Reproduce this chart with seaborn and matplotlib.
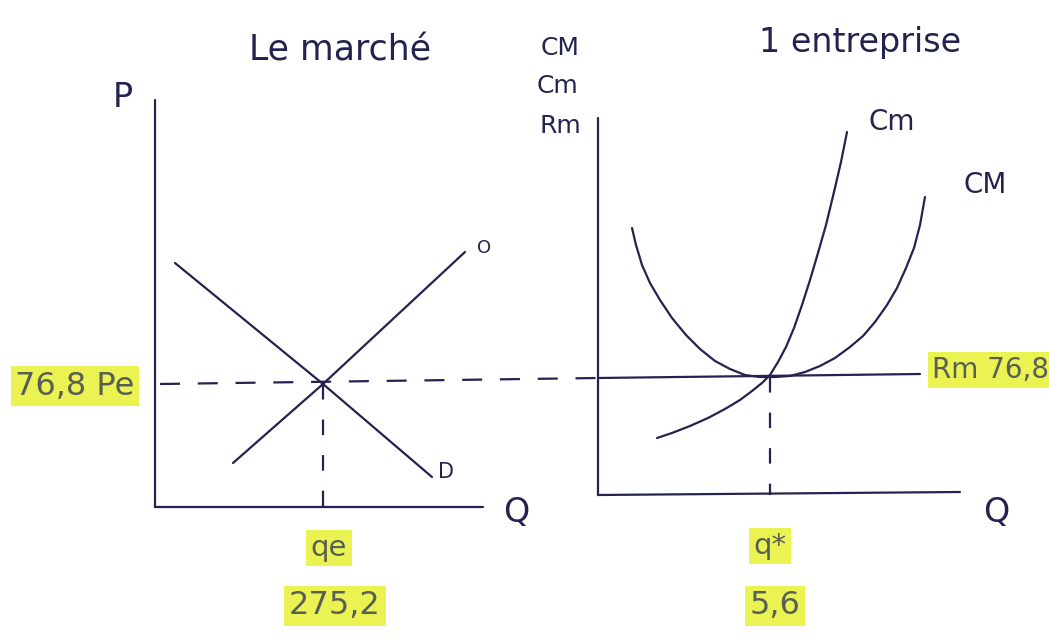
import matplotlib
matplotlib.use("Agg")
import matplotlib.pyplot as plt
import seaborn as sns

# ---------------- DATA (page pixel units) ----------------
# left panel : the market
supply_q = [233, 323, 465]
supply_p = [463, 384, 252]
demand_q = [175, 323, 432]
demand_p = [263, 384, 477]
qe_x = 323
pe_y = 384

# right panel : one firm
cm_q = [657, 672, 690, 708, 725, 740, 752, 762, 770, 778, 786, 794, 802, 810, 818, 826, 834, 841, 847]
cm_c = [438, 433, 426, 418, 409, 400, 391, 383, 375, 362, 347, 328, 305, 280, 253, 225, 192, 162, 132]
cmoy_q = [632, 636, 642, 650, 660, 672, 686, 700, 715, 730, 745, 760, 775, 790, 805,
          820, 835, 850, 863, 875, 887, 897, 906, 914, 920, 925]
cmoy_c = [228, 245, 265, 283, 300, 318, 335, 349, 361, 369, 375, 377, 377, 376, 372,
          366, 358, 347, 336, 322, 305, 288, 268, 248, 225, 197]
rm_q = [598, 920]
rm_c = [378, 374]
qstar_x = 770

# values written on the sketch
price_label = "76,8 Pe"
qe_labels = ["qe", "275,2"]
qstar_labels = ["q*", "5,6"]
rm_label = "Rm 76,8"

INK = "#23234f"
PENCIL = "#5a5f55"
HIGHLIGHT = "#eaf352"

sns.set_theme(style="white")

fig = plt.figure(figsize=(10.49, 6.44), dpi=100)
ax = fig.add_axes([0, 0, 1, 1])
ax.set_xlim(0, 1049)
ax.set_ylim(644, 0)
ax.axis("off")

lw = 1.6

# ---------------- LEFT PANEL ----------------
ax.plot([155, 155], [100, 507], color=INK, lw=lw)
ax.plot([155, 483], [507, 507], color=INK, lw=lw)
sns.lineplot(x=supply_q, y=supply_p, ax=ax, color=INK, lw=lw, sort=False)
sns.lineplot(x=demand_q, y=demand_p, ax=ax, color=INK, lw=lw, sort=False)
ax.plot([160, 598], [pe_y, 378], color=INK, lw=lw, dashes=(9, 8))
ax.plot([qe_x, qe_x], [pe_y, 507], color=INK, lw=lw, dashes=(7, 9))

ax.text(340, 50, "Le marché", fontsize=25, color=INK, ha="center", va="center")
ax.text(123, 97, "P", fontsize=24, color=INK, ha="center", va="center")
ax.text(516, 512, "Q", fontsize=24, color=INK, ha="center", va="center")
ax.text(484, 248, "O", fontsize=13, color=INK, ha="center", va="center")
ax.text(446, 472, "D", fontsize=15, color=INK, ha="center", va="center")

hl = dict(boxstyle="square,pad=0.15", facecolor=HIGHLIGHT, edgecolor="none")
ax.text(75, 386, price_label, fontsize=23, color=PENCIL, ha="center", va="center", bbox=hl)
ax.text(329, 548, qe_labels[0], fontsize=21, color=PENCIL, ha="center", va="center", bbox=hl)
ax.text(335, 606, qe_labels[1], fontsize=23, color=PENCIL, ha="center", va="center", bbox=hl)

# ---------------- RIGHT PANEL ----------------
ax.plot([598, 598], [118, 495], color=INK, lw=lw)
ax.plot([598, 960], [495, 492], color=INK, lw=lw)
sns.lineplot(x=rm_q, y=rm_c, ax=ax, color=INK, lw=lw, sort=False)
sns.lineplot(x=cm_q, y=cm_c, ax=ax, color=INK, lw=lw, sort=False)
sns.lineplot(x=cmoy_q, y=cmoy_c, ax=ax, color=INK, lw=lw, sort=False)
ax.plot([qstar_x, qstar_x], [377, 495], color=INK, lw=lw, dashes=(7, 9))

ax.text(860, 42, "1 entreprise", fontsize=24, color=INK, ha="center", va="center")
ax.text(560, 48, "CM", fontsize=18, color=INK, ha="center", va="center")
ax.text(558, 86, "Cm", fontsize=18, color=INK, ha="center", va="center")
ax.text(560, 126, "Rm", fontsize=18, color=INK, ha="center", va="center")
ax.text(892, 122, "Cm", fontsize=20, color=INK, ha="center", va="center")
ax.text(985, 185, "CM", fontsize=20, color=INK, ha="center", va="center")
ax.text(996, 512, "Q", fontsize=24, color=INK, ha="center", va="center")

ax.text(932, 370, rm_label, fontsize=20, color=PENCIL, ha="left", va="center", bbox=hl)
ax.text(770, 546, qstar_labels[0], fontsize=21, color=PENCIL, ha="center", va="center", bbox=hl)
ax.text(775, 606, qstar_labels[1], fontsize=23, color=PENCIL, ha="center", va="center", bbox=hl)

fig.savefig("out.png", dpi=100, facecolor="white")
